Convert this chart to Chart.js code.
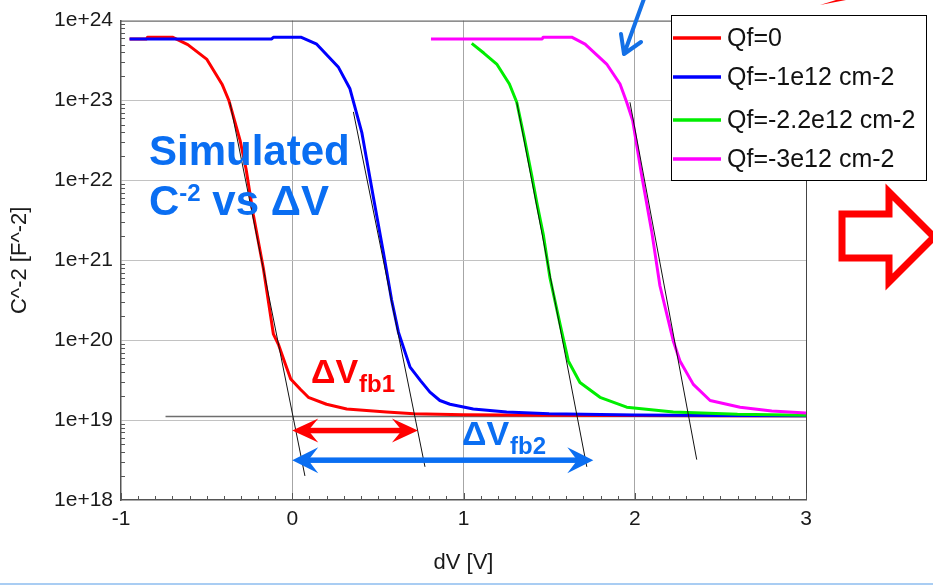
<!DOCTYPE html>
<html>
<head>
<meta charset="utf-8">
<script src="https://cdn.jsdelivr.net/npm/chart.js@4/dist/chart.umd.min.js"></script>
<style>
  html, body { margin: 0; padding: 0; background: #fff; overflow: hidden; }
  canvas { display: block; }
</style>
</head>
<body>
<canvas id="c" width="933" height="585"></canvas>
<script>
// ---- simulated C^-2 vs dV curves for several fixed oxide charges ----
const qf0V  = [-0.95, -0.85, -0.845, -0.70, -0.61, -0.50, -0.41, -0.37, -0.305, -0.27, -0.227, -0.169, -0.11, -0.081, -0.04, -0.009, 0.05, 0.094, 0.20, 0.318, 0.55, 0.71, 1.0, 1.5, 2.0, 2.5, 3.0];
const qf0C  = [5.9e23, 5.9e23, 6.2e23, 6.2e23, 5.0e23, 3.3e23, 1.6e23, 1.0e23, 3.2e22, 1.4e22, 3.7e21, 8.0e20, 1.19e20, 8.9e19, 5.0e19, 3.27e19, 2.4e19, 1.93e19, 1.58e19, 1.38e19, 1.26e19, 1.2e19, 1.17e19, 1.15e19, 1.14e19, 1.13e19, 1.13e19];

const qf1V  = [-0.95, -0.12, -0.11, 0.05, 0.143, 0.27, 0.337, 0.406, 0.473, 0.532, 0.58, 0.62, 0.688, 0.75, 0.804, 0.862, 0.921, 1.057, 1.252, 1.5, 2.0, 2.5, 3.0];
const qf1C  = [5.9e23, 5.9e23, 6.2e23, 6.2e23, 5.07e23, 2.6e23, 1.4e23, 4.0e22, 6.3e21, 1.26e21, 3.2e20, 1.26e20, 4.6e19, 3.1e19, 2.24e19, 1.76e19, 1.58e19, 1.38e19, 1.26e19, 1.2e19, 1.16e19, 1.14e19, 1.13e19];

const qf22V = [1.048, 1.12, 1.194, 1.268, 1.311, 1.355, 1.398, 1.427, 1.466, 1.505, 1.564, 1.612, 1.68, 1.797, 1.953, 2.225, 2.6, 3.0];
const qf22C = [5.2e23, 3.9e23, 2.86e23, 1.61e23, 9.5e22, 3.4e22, 1.17e22, 5.4e21, 2.1e21, 6.0e20, 1.58e20, 5.5e19, 2.95e19, 1.93e19, 1.45e19, 1.26e19, 1.18e19, 1.15e19];

const qf3V  = [0.81, 1.46, 1.465, 1.632, 1.71, 1.836, 1.914, 1.953, 1.988, 2.04, 2.099, 2.147, 2.225, 2.264, 2.342, 2.44, 2.615, 2.8, 3.0];
const qf3C  = [5.9e23, 5.9e23, 6.2e23, 6.2e23, 5.07e23, 2.86e23, 1.61e23, 9.5e22, 5.6e22, 1.17e22, 2.3e21, 4.8e20, 9.8e19, 5.5e19, 2.8e19, 1.76e19, 1.45e19, 1.3e19, 1.23e19];

const seriesLabels = ['Qf=0', 'Qf=-1e12 cm-2', 'Qf=-2.2e12 cm-2', 'Qf=-3e12 cm-2'];

// linear fits through the depletion region of each curve
const fitQf0V  = [-0.364, 0.074];  const fitQf0C  = [9.5e22, 2.0e18];
const fitQf1V  = [0.357, 0.775];   const fitQf1C  = [7.2e22, 2.6e18];
const fitQf22V = [1.311, 1.72];    const fitQf22C = [9.5e22, 2.6e18];
const fitQf3V  = [1.972, 2.362];   const fitQf3C  = [9.5e22, 3.2e18];

// saturation level reference line
const satV = [-0.74, 3.0];
const satC = [1.11e19, 1.11e19];

// flat-band shifts (start, end in V) and the level they are drawn at
const dVfb1Span = [0, 0.734];  const dVfb1Level = 7.4e18;
const dVfb2Span = [0, 1.758];  const dVfb2Level = 3.15e18;

// axis ticks
const xTicks = [-1, 0, 1, 2, 3];
const yExponents = [18, 19, 20, 21, 22, 23, 24];

const FONT = '"Liberation Sans", Arial, Helvetica, sans-serif';
const ANN_BLUE = '#0a6ef2';
const ANN_RED = '#ff0000';

const pts = (xs, ys) => xs.map((x, i) => ({ x: x, y: ys[i] }));

const curveColors = ['#ff0000', '#0000ff', '#00ee00', '#ff00ff'];
const curveData = [pts(qf0V, qf0C), pts(qf1V, qf1C), pts(qf22V, qf22C), pts(qf3V, qf3C)];
const curveOrder = [4, 3, 2, 1];

const fitLine = (xs, ys) => ({
  data: pts(xs, ys), borderColor: '#111', borderWidth: 1, order: 0, inLegend: false
});

const datasets = [
  fitLine(fitQf0V, fitQf0C),
  fitLine(fitQf1V, fitQf1C),
  fitLine(fitQf22V, fitQf22C),
  fitLine(fitQf3V, fitQf3C),
  { data: pts(satV, satC), borderColor: '#6e6e6e', borderWidth: 1.5, order: 5, inLegend: false }
];
seriesLabels.forEach((lab, i) => {
  datasets.push({
    label: lab, data: curveData[i], borderColor: curveColors[i],
    borderWidth: 3, order: curveOrder[i], inLegend: true
  });
});

function doubleArrow(ctx, x1, x2, y, color, shaft, headLen, headHalf) {
  ctx.save();
  ctx.fillStyle = color;
  const notch = headLen * 0.62;
  ctx.fillRect(x1 + notch - 1, y - shaft / 2, (x2 - x1) - 2 * notch + 2, shaft);
  ctx.beginPath();
  ctx.moveTo(x1, y);
  ctx.lineTo(x1 + headLen, y - headHalf);
  ctx.lineTo(x1 + notch, y);
  ctx.lineTo(x1 + headLen, y + headHalf);
  ctx.closePath();
  ctx.fill();
  ctx.beginPath();
  ctx.moveTo(x2, y);
  ctx.lineTo(x2 - headLen, y - headHalf);
  ctx.lineTo(x2 - notch, y);
  ctx.lineTo(x2 - headLen, y + headHalf);
  ctx.closePath();
  ctx.fill();
  ctx.restore();
}

function subLabel(ctx, x, y, main, sub, color) {
  ctx.save();
  ctx.fillStyle = color;
  ctx.textBaseline = 'alphabetic';
  ctx.font = 'bold 34px ' + FONT;
  ctx.fillText(main, x, y);
  const w = ctx.measureText(main).width;
  ctx.font = 'bold 24px ' + FONT;
  ctx.fillText(sub, x + w + 1, y + 9);
  ctx.restore();
}

const decorations = {
  id: 'decorations',
  afterDatasetsDraw(chart) {
    const ctx = chart.ctx;
    const xs = chart.scales.x, ys = chart.scales.y;
    const a = chart.chartArea;

    // frame: top and right edges
    ctx.save();
    ctx.strokeStyle = '#444';
    ctx.lineWidth = 1;
    ctx.beginPath();
    ctx.moveTo(a.left, a.top + 0.5);
    ctx.lineTo(a.right, a.top + 0.5);
    ctx.moveTo(a.right + 0.5, a.top);
    ctx.lineTo(a.right + 0.5, a.bottom);
    ctx.stroke();

    // minor ticks, inside the plot
    ctx.strokeStyle = '#555';
    ctx.beginPath();
    for (let e = yExponents[0]; e < yExponents[yExponents.length - 1]; e++) {
      for (let m = 2; m <= 9; m++) {
        const py = Math.round(ys.getPixelForValue(m * Math.pow(10, e))) + 0.5;
        ctx.moveTo(a.left, py);
        ctx.lineTo(a.left + 4, py);
      }
    }
    for (let k = -10; k <= 30; k++) {
      const px = Math.round(xs.getPixelForValue(k / 10)) + 0.5;
      const len = (k % 10 === 0) ? 7 : 4;
      ctx.moveTo(px, a.bottom);
      ctx.lineTo(px, a.bottom - len);
    }
    ctx.stroke();
    ctx.restore();

    // flat-band shift arrows
    const y1 = ys.getPixelForValue(dVfb1Level);
    doubleArrow(ctx, xs.getPixelForValue(dVfb1Span[0]), xs.getPixelForValue(dVfb1Span[1]), y1, ANN_RED, 5.5, 26, 12);
    const y2 = ys.getPixelForValue(dVfb2Level);
    doubleArrow(ctx, xs.getPixelForValue(dVfb2Span[0]), xs.getPixelForValue(dVfb2Span[1]), y2, ANN_BLUE, 5.5, 26, 13);

    subLabel(ctx, 311, 383, '\u0394V', 'fb1', ANN_RED);
    subLabel(ctx, 462, 445, '\u0394V', 'fb2', ANN_BLUE);

    // title block
    ctx.save();
    ctx.fillStyle = ANN_BLUE;
    ctx.textBaseline = 'alphabetic';
    ctx.font = 'bold 42px ' + FONT;
    ctx.fillText('Simulated', 149, 165);
    ctx.fillText('C', 149, 215);
    let x = 149 + ctx.measureText('C').width;
    ctx.font = 'bold 24px ' + FONT;
    ctx.fillText('-2', x, 201);
    x += ctx.measureText('-2').width;
    ctx.font = 'bold 42px ' + FONT;
    ctx.fillText(' vs \u0394V', x, 215);
    ctx.restore();
  },
  afterDraw(chart) {
    const ctx = chart.ctx;

    // legend box
    const box = { x: 671.5, y: 15.5, w: 255, h: 165 };
    const rows = [38, 77, 120, 159];
    ctx.save();
    ctx.fillStyle = '#fff';
    ctx.fillRect(box.x, box.y, box.w, box.h);
    ctx.strokeStyle = '#000';
    ctx.lineWidth = 1;
    ctx.strokeRect(box.x, box.y, box.w, box.h);
    ctx.font = '25px ' + FONT;
    ctx.textBaseline = 'middle';
    ctx.fillStyle = '#111';
    chart.data.datasets.filter(d => d.inLegend).forEach((d, i) => {
      ctx.strokeStyle = d.borderColor;
      ctx.lineWidth = 3.5;
      ctx.beginPath();
      ctx.moveTo(673, rows[i]);
      ctx.lineTo(721, rows[i]);
      ctx.stroke();
      ctx.fillText(d.label, 727, rows[i] + 1);
    });
    ctx.restore();

    // pointer arrow at the top
    ctx.save();
    ctx.strokeStyle = '#1470e6';
    ctx.lineWidth = 4;
    ctx.lineCap = 'round';
    ctx.lineJoin = 'round';
    ctx.beginPath();
    ctx.moveTo(645, -4);
    ctx.lineTo(624, 54);
    ctx.moveTo(621, 34);
    ctx.lineTo(624, 54);
    ctx.lineTo(641, 42);
    ctx.stroke();

    // red pointer entering from the top edge
    ctx.fillStyle = '#ff0000';
    ctx.beginPath();
    ctx.moveTo(820, 5);
    ctx.lineTo(836, 0);
    ctx.lineTo(846, 0);
    ctx.closePath();
    ctx.fill();

    // hollow red block arrow on the right
    ctx.strokeStyle = '#ff0000';
    ctx.lineWidth = 7;
    ctx.lineJoin = 'miter';
    ctx.beginPath();
    ctx.moveTo(842, 214);
    ctx.lineTo(889, 214);
    ctx.lineTo(889, 192);
    ctx.lineTo(934, 237);
    ctx.lineTo(889, 282);
    ctx.lineTo(889, 258);
    ctx.lineTo(842, 258);
    ctx.closePath();
    ctx.stroke();

    // light blue rule along the bottom edge
    ctx.strokeStyle = '#a9cdf3';
    ctx.lineWidth = 2;
    ctx.beginPath();
    ctx.moveTo(0, 584);
    ctx.lineTo(933, 584);
    ctx.stroke();
    ctx.restore();
  }
};

new Chart(document.getElementById('c'), {
  type: 'scatter',
  data: { datasets: datasets },
  options: {
    responsive: false,
    animation: false,
    devicePixelRatio: 1,
    showLine: true,
    layout: { padding: { left: 0, top: 18, right: 127, bottom: 0 } },
    elements: {
      point: { radius: 0, hoverRadius: 0 },
      line: { tension: 0, fill: false, borderCapStyle: 'butt', borderJoinStyle: 'round' }
    },
    plugins: { legend: { display: false }, tooltip: { enabled: false } },
    scales: {
      x: {
        type: 'linear',
        min: -1, max: 3,
        afterFit(s) { s.height = 85; },
        afterBuildTicks(s) { s.ticks = xTicks.map(v => ({ value: v })); },
        ticks: {
          font: { family: FONT, size: 21 }, color: '#1a1a1a', padding: 7,
          callback: v => String(v)
        },
        grid: {
          drawTicks: false,
          color: c => (c.tick && (c.tick.value === -1 || c.tick.value === 3)) ? 'rgba(0,0,0,0)' : '#a6a6a6',
          lineWidth: 1
        },
        border: { color: '#555', width: 1.5 },
        title: {
          display: true, text: 'dV [V]', color: '#1a1a1a',
          font: { family: FONT, size: 22 }, padding: { top: 0, bottom: 9 }
        }
      },
      y: {
        type: 'logarithmic',
        min: 1e18, max: 1e24,
        afterFit(s) { s.width = 121; },
        afterBuildTicks(s) { s.ticks = yExponents.map(e => ({ value: Math.pow(10, e) })); },
        ticks: {
          font: { family: FONT, size: 21 }, color: '#1a1a1a', padding: 8,
          autoSkip: false,
          callback: v => '1e+' + Math.round(Math.log10(v))
        },
        grid: {
          drawTicks: false,
          color: c => (c.tick && (c.tick.value === 1e18 || c.tick.value === 1e24)) ? 'rgba(0,0,0,0)' : '#c2c2c2',
          lineWidth: 1
        },
        border: { color: '#555', width: 1.5 },
        title: {
          display: true, text: 'C^-2 [F^-2]', color: '#1a1a1a',
          font: { family: FONT, size: 22 }, padding: { top: 7, bottom: 0 }
        }
      }
    }
  },
  plugins: [decorations]
});
</script>
</body>
</html>
